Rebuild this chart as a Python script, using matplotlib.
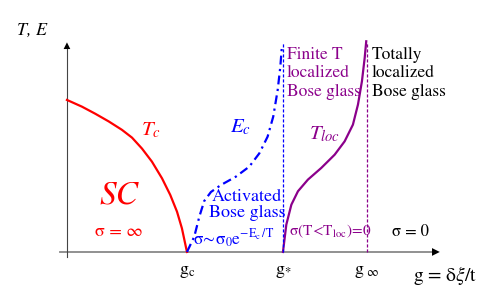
import matplotlib.pyplot as plt

plt.rcParams['font.family'] = ['STIXGeneral', 'DejaVu Sans']
plt.rcParams['mathtext.fontset'] = 'stix'

# phase boundaries (g in units where g_c = 1)
g_c = 1.0
g_star = 1.80
g_inf = 2.50

tc_g = [0.0, 0.125, 0.236, 0.348, 0.458, 0.542, 0.625, 0.708, 0.792, 0.861, 0.917, 0.958, 1.0]
tc_T = [1.267, 1.211, 1.152, 1.088, 1.018, 0.953, 0.862, 0.753, 0.614, 0.475, 0.336, 0.197, 0.0]

ec_g = [1.0, 1.061, 1.103, 1.144, 1.2, 1.283, 1.408, 1.519, 1.603, 1.672, 1.719, 1.756, 1.778, 1.792]
ec_E = [0.0, 0.128, 0.294, 0.425, 0.50, 0.558, 0.628, 0.711, 0.822, 0.961, 1.128, 1.35, 1.544, 1.725]

tloc_g = [1.80, 1.828, 1.87, 1.925, 2.008, 2.119, 2.231, 2.314, 2.383, 2.425, 2.458, 2.481, 2.494]
tloc_T = [0.0, 0.228, 0.394, 0.506, 0.603, 0.70, 0.811, 0.922, 1.061, 1.228, 1.422, 1.617, 1.756]

tick_pos = [g_c, g_star, g_inf]
tick_labels = [r'$\mathrm{g}_{\mathrm{c}}$', r'$\mathrm{g}_{*}$', r'$\mathrm{g}_{\ \infty}$']

red = '#ff0000'
blue = '#0000ff'
purple = '#8b008b'

fig = plt.figure(figsize=(4.98, 3.02), dpi=100)
ax = fig.add_axes([0, 0, 1, 1])
ax.set_xlim(-0.558, 3.592)
ax.set_ylim(-0.417, 2.1)
ax.axis('off')

# axes with arrows
ax.plot([-0.06, 3.08], [0, 0], color='#888888', lw=1.3, zorder=1)
ax.annotate('', xy=(3.13, 0), xytext=(2.98, 0),
            arrowprops=dict(arrowstyle='-|>', color='black', lw=0,
                            mutation_scale=14))
ax.plot([0, 0], [-0.04, 1.72], color='#444444', lw=0.8, zorder=1)
ax.annotate('', xy=(0, 1.77), xytext=(0, 1.65),
            arrowprops=dict(arrowstyle='-|>', color='black', lw=0,
                            mutation_scale=12))

# curves
ax.plot(tc_g, tc_T, color=red, lw=1.6, solid_joinstyle='round')
ax.plot(ec_g, ec_E, color=blue, lw=1.6, linestyle=(0, (4, 2, 1, 2)))
ax.plot(tloc_g, tloc_T, color=purple, lw=1.6, solid_joinstyle='round')
ax.plot([g_star, g_star], [0, 1.75], color=blue, lw=0.9, linestyle=(0, (2.5, 1.5)))
ax.plot([g_inf, g_inf], [0, 1.75], color=purple, lw=0.9, linestyle=(0, (2.5, 1.5)))

# tick labels
for x, lab in zip(tick_pos, tick_labels):
    ax.text(x, -0.17, lab, ha='center', va='center', fontsize=13)
ax.text(3.15, -0.195, r'g = δ$\xi$/t', ha='center', va='center', fontsize=14)

ax.text(-0.29, 1.85, 'T, E', ha='center', va='center', fontsize=13, style='italic')

# curve labels
ax.text(0.70, 1.01, r'$T_c$', color=red, ha='center', va='center', fontsize=15)
ax.text(1.45, 1.04, r'$E_c$', color=blue, ha='center', va='center', fontsize=15)
ax.text(2.15, 0.98, r'$T_{loc}$', color=purple, ha='center', va='center', fontsize=15)

# region labels
ax.text(0.43, 0.47, 'SC', color=red, ha='center', va='center', fontsize=24, style='italic')
ax.text(0.43, 0.17, 'σ = ∞', color=red, ha='center', va='center', fontsize=13)

ax.text(1.50, 0.39, 'Activated\nBose glass', color=blue, ha='center', va='center',
        fontsize=13, linespacing=1.0)
ax.text(1.05, 0.11, r'$\mathrm{\sigma\!\sim\!\sigma_0 e^{-E_c\,/T}}$', color=blue,
        ha='left', va='center', fontsize=12.5)

ax.text(1.83, 1.71, 'Finite T\nlocalized\nBose glass', color=purple, ha='left', va='top',
        fontsize=12.5, linespacing=1.2)
ax.text(2.54, 1.71, 'Totally\nlocalized\nBose glass', color='black', ha='left', va='top',
        fontsize=12.5, linespacing=1.2)

ax.text(1.85, 0.17, r'$\mathrm{\sigma(T\!<\!T_{loc})\!=\!0}$', color=purple, ha='left', va='center',
        fontsize=11)
ax.text(2.71, 0.17, 'σ = 0', color='black', ha='left', va='center', fontsize=12)

fig.savefig('out.png', dpi=100)
